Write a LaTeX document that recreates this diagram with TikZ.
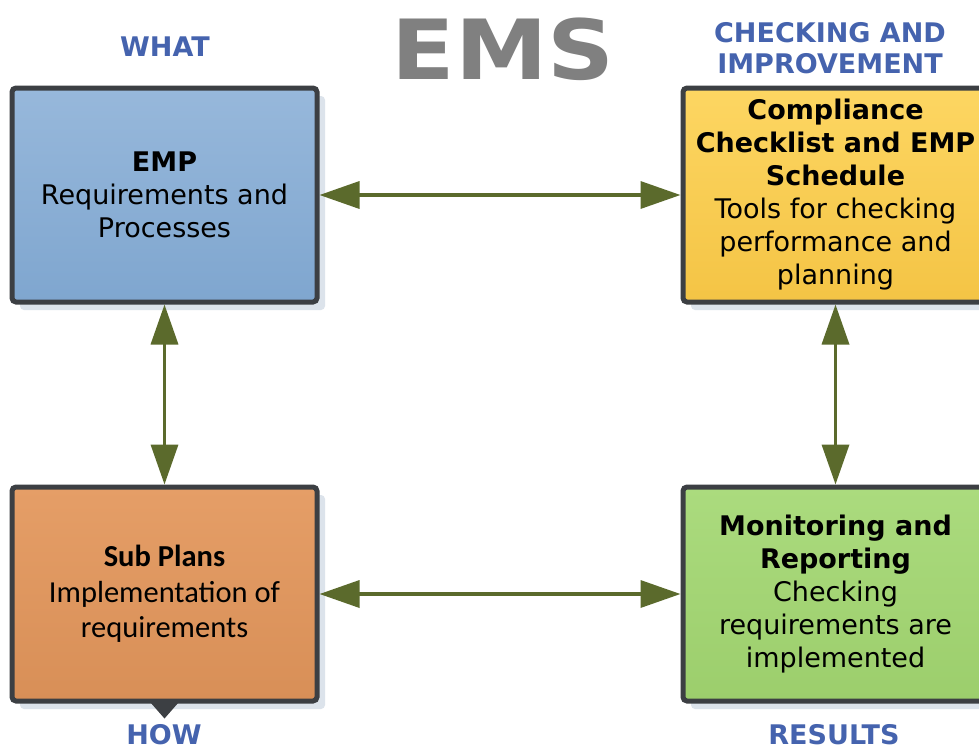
\documentclass[tikz,border=0pt]{standalone}
\usepackage{fontspec}
\setmainfont{DejaVu Sans}
\newfontfamily\carlitofont{Carlito}
\usetikzlibrary{arrows.meta}
\definecolor{hdrblue}{HTML}{4563AE}
\definecolor{emsgray}{HTML}{808080}
\definecolor{bordergray}{HTML}{3C3F43}
\definecolor{arrowgreen}{HTML}{5B6A2C}
\definecolor{shadowc}{HTML}{DCE3EB}
\definecolor{blueA}{HTML}{97B8DB}
\definecolor{blueB}{HTML}{7FA6CF}
\definecolor{yelA}{HTML}{FDD662}
\definecolor{yelB}{HTML}{F4C445}
\definecolor{orgA}{HTML}{E59E67}
\definecolor{orgB}{HTML}{D88F57}
\definecolor{grnA}{HTML}{ABDB7E}
\definecolor{grnB}{HTML}{9CCE6C}
\tikzset{
  box/.style={draw=bordergray, line width=5pt, rounded corners=4pt,
    minimum width=305pt, minimum height=214pt, align=center, inner sep=0pt,
    font=\fontsize{27}{33}\selectfont, text=black},
  shadowbox/.style={fill=shadowc, rounded corners=4pt,
    minimum width=305pt, minimum height=214pt, inner sep=0pt},
  hdr/.style={font=\fontsize{27}{31}\selectfont\bfseries, text=hdrblue, align=center, inner sep=0pt},
  link/.style={draw=arrowgreen, line width=3.5pt,
    {Triangle[length=40pt,width=27pt,fill=arrowgreen]}-{Triangle[length=40pt,width=27pt,fill=arrowgreen]}}
}
\begin{document}
\begin{tikzpicture}[x=1pt,y=-1pt]
\useasboundingbox (0,0) rectangle (979,753);
\fill[white] (0,0) rectangle (979,753);
% shadows
\node[shadowbox] (s1) at (172.5,203) {};
\node[shadowbox] (s2) at (843.5,203) {};
\node[shadowbox] (s3) at (172.5,602) {};
\node[shadowbox] (s4) at (843.5,602) {};
% boxes
\node[box, top color=blueA, bottom color=blueB] (emp) at (164.5,195)
  {\textbf{EMP}\\Requirements and\\Processes};
\node[box, top color=yelA, bottom color=yelB] (comp) at (835.5,195)
  {\textbf{Compliance}\\\textbf{Checklist and EMP}\\\textbf{Schedule}\\Tools for checking\\performance and\\planning};
\node[box, top color=orgA, bottom color=orgB, font=\carlitofont\fontsize{30.5}{35.5}\selectfont] (sub) at (164.5,594)
  {\textbf{Sub Plans}\\Implementation of\\requirements};
\node[box, top color=grnA, bottom color=grnB] (mon) at (835.5,594)
  {\textbf{Monitoring and}\\\textbf{Reporting}\\Checking\\requirements are\\implemented};
% connectors
\draw[link] (emp.east) -- (comp.west);
\draw[link] (sub.east) -- (mon.west);
\draw[link] (emp.south) -- (sub.north);
\draw[link] (comp.south) -- (mon.north);
% small stub below Sub Plans
\fill[bordergray] (sub.south) ++(-14,-1) -- ++(28,0) -- ++(-14,16) -- cycle;
% headings
\node[hdr] (what) at (165,47) {WHAT};
\node[hdr] (chk) at (830,48) {CHECKING AND\\IMPROVEMENT};
\node[font=\fontsize{83}{83}\selectfont\bfseries, text=emsgray, inner sep=0pt] (ems) at (503,49) {\scalebox{1.12}[1]{EMS}};
\node[hdr] (how) at (164,735) {HOW};
\node[hdr] (res) at (834,735) {RESULTS};
\end{tikzpicture}
\end{document}
